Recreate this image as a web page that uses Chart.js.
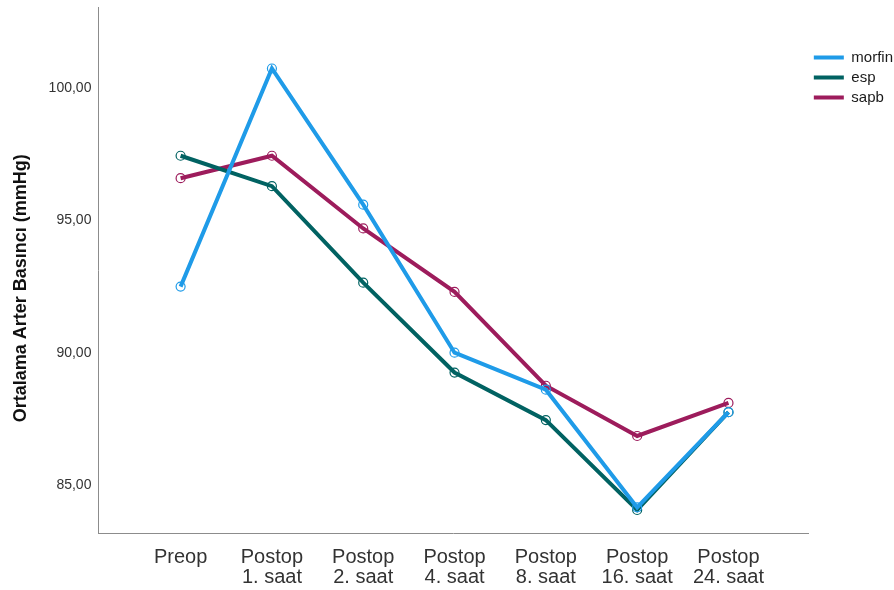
<!DOCTYPE html>
<html>
<head>
<meta charset="utf-8">
<script src="https://cdn.jsdelivr.net/npm/chart.js@4"></script>
<style>
  html, body { margin: 0; padding: 0; background: #fff; }
  #wrap { width: 894px; height: 590px; }
</style>
</head>
<body>
<div id="wrap"><canvas id="grafik"></canvas></div>
<script>
const zamanlar = [['Preop'], ['Postop', '1. saat'], ['Postop', '2. saat'], ['Postop', '4. saat'],
                  ['Postop', '8. saat'], ['Postop', '16. saat'], ['Postop', '24. saat']];
const morfin = [92.5, 100.75, 95.6, 90.0, 88.6, 84.15, 87.75];
const esp    = [97.45, 96.3, 92.65, 89.25, 87.45, 84.05, 87.75];
const sapb   = [96.6, 97.45, 94.7, 92.3, 88.75, 86.85, 88.1];
const yTikler = [85, 90, 95, 100];

function seri(ad, degerler, renk) {
    return {
        label: ad,
        data: degerler.map((v, i) => ({ x: i, y: v })),
        borderColor: renk,
        backgroundColor: renk,
        borderWidth: 4,
        pointRadius: 4.5,
        pointBorderWidth: 1.2,
        pointBorderColor: renk,
        pointBackgroundColor: 'rgba(255,255,255,0)',
        tension: 0
    };
}

const config = {
    type: 'line',
    data: {
        datasets: [
            seri('morfin', morfin, '#1f9be8'),
            seri('esp', esp, '#016262'),
            seri('sapb', sapb, '#9d1c5c')
        ]
    },
    options: {
        responsive: true,
        maintainAspectRatio: false,
        animation: false,
        layout: { padding: { left: 10, top: 7, right: -9, bottom: -11 } },
        plugins: {
            tooltip: { enabled: false },
            legend: {
                position: 'right',
                align: 'start',
                title: { display: true, text: ' ', padding: { top: 20, bottom: 0 }, font: { size: 15 } },
                labels: {
                    boxWidth: 30,
                    boxHeight: 4,
                    padding: 5,
                    color: '#1a1a1a',
                    font: { family: 'Liberation Sans', size: 15 },
                    generateLabels: function (chart) {
                        return chart.data.datasets.map((d, i) => ({
                            text: d.label,
                            fillStyle: d.borderColor,
                            strokeStyle: d.borderColor,
                            fontColor: '#1a1a1a',
                            lineWidth: 0,
                            datasetIndex: i,
                            hidden: false
                        }));
                    }
                }
            }
        },
        scales: {
            x: {
                type: 'linear',
                min: -0.9,
                max: 6.88,
                grid: { display: false, drawTicks: false },
                border: { display: true, color: '#8c8c8c', width: 1 },
                afterBuildTicks: function (scale) {
                    scale.ticks = zamanlar.map((_, i) => ({ value: i }));
                },
                ticks: {
                    autoSkip: false,
                    maxRotation: 0,
                    padding: 14,
                    color: '#333',
                    font: { family: 'Liberation Sans', size: 20, lineHeight: 0.98 },
                    callback: function (v) { return zamanlar[v]; }
                }
            },
            y: {
                min: 83.15,
                max: 103.05,
                grid: { display: false, drawTicks: false },
                border: { display: true, color: '#8c8c8c', width: 1 },
                afterBuildTicks: function (scale) {
                    scale.ticks = yTikler.map(v => ({ value: v }));
                },
                ticks: {
                    padding: 7,
                    color: '#333',
                    font: { family: 'Liberation Sans', size: 14, lineHeight: 0.1 },
                    callback: function (v) { return v.toFixed(2).replace('.', ','); }
                },
                title: {
                    display: true,
                    text: 'Ortalama Arter Basıncı (mmHg)\u00a0\u00a0\u00a0\u00a0\u00a0\u00a0\u00a0',
                    color: '#111',
                    padding: { top: 0, bottom: 10 },
                    font: { family: 'Liberation Sans', size: 18, weight: 'bold' }
                }
            }
        }
    }
};

const chart = new Chart(document.getElementById('grafik'), config);
</script>
</body>
</html>
